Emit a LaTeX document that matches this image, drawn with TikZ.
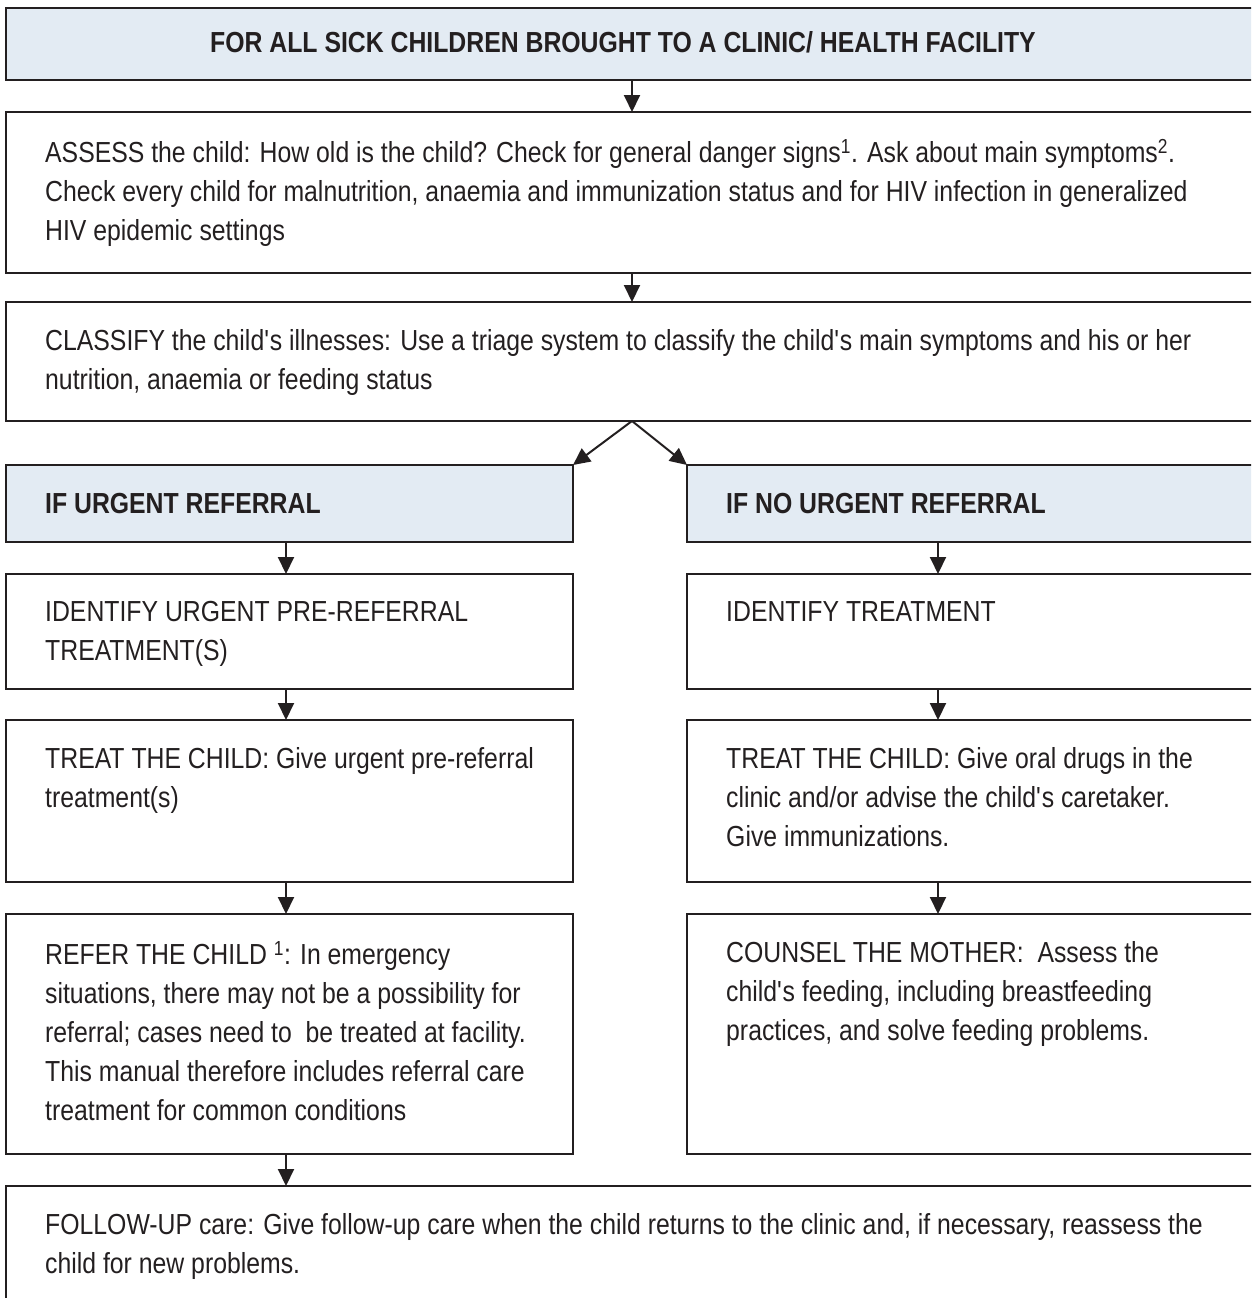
\documentclass[tikz,border=0pt]{standalone}
\usepackage{fontspec}
\setmainfont{Liberation Sans}[FakeStretch=0.855]
\usetikzlibrary{positioning,arrows.meta}

\definecolor{headblue}{RGB}{227,235,243}
\definecolor{ink}{RGB}{35,31,32}

\tikzset{
  box/.style={draw=ink, line width=2.6pt, anchor=north west, inner sep=0pt, outer sep=0pt},
  headbox/.style={box, fill=headblue},
  txt/.style={anchor=north west, inner sep=0pt, align=left, text=ink, font=\fontsize{29}{39}\selectfont},
  headtxt/.style={inner sep=0pt, text=ink, font=\fontsize{29}{36}\selectfont\bfseries},
  arr/.style={draw=ink, line width=2pt, -{Triangle[width=16pt,length=17pt]}},
}

\begin{document}
\begin{tikzpicture}[x=1pt,y=-1pt]
  \useasboundingbox (0,0) rectangle (1251,1298);
  \clip (0,0) rectangle (1251,1298);

  % boxes
  \node[headbox, minimum width=1259pt, minimum height=72pt]  (head)     at (6,8)     {};
  \node[box,     minimum width=1259pt, minimum height=161pt] (assess)   at (6,112)   {};
  \node[box,     minimum width=1259pt, minimum height=119pt] (classify) at (6,302)   {};
  \node[headbox, minimum width=567pt,  minimum height=77pt]  (ifurg)    at (6,465)   {};
  \node[headbox, minimum width=578pt,  minimum height=77pt]  (ifno)     at (687,465) {};
  \node[box,     minimum width=567pt,  minimum height=115pt] (idurg)    at (6,574)   {};
  \node[box,     minimum width=578pt,  minimum height=115pt] (idtr)     at (687,574) {};
  \node[box,     minimum width=567pt,  minimum height=162pt] (trurg)    at (6,720)   {};
  \node[box,     minimum width=578pt,  minimum height=162pt] (trno)     at (687,720) {};
  \node[box,     minimum width=567pt,  minimum height=240pt] (refer)    at (6,914)   {};
  \node[box,     minimum width=578pt,  minimum height=240pt] (counsel)  at (687,914) {};
  \node[box,     minimum width=1259pt, minimum height=130pt] (follow)   at (6,1186)  {};

  % texts
  \node[headtxt, right=204pt of head.west, yshift=2pt] (head-t)
    {FOR ALL SICK CHILDREN BROUGHT TO A CLINIC/ HEALTH FACILITY};
  \node[txt, below right=27pt and 39pt of assess.north west] (assess-t)
    {ASSESS the child: How old is the child? Check for general danger signs\textsuperscript{1}. Ask about main symptoms\textsuperscript{2}.\\
     Check every child for malnutrition, anaemia and immunization status and for HIV infection in generalized\\
     HIV epidemic settings};
  \node[txt, below right=27pt and 39pt of classify.north west] (classify-t)
    {CLASSIFY the child\textquotesingle s illnesses: Use a triage system to classify the child\textquotesingle s main symptoms and his or her\\
     nutrition, anaemia or feeding status};
  \node[headtxt, right=39pt of ifurg.west] (ifurg-t) {IF URGENT REFERRAL};
  \node[headtxt, right=39pt of ifno.west] (ifno-t) {IF NO URGENT REFERRAL};
  \node[txt, below right=27pt and 39pt of idurg.north west] (idurg-t)
    {IDENTIFY URGENT PRE-REFERRAL\\ TREATMENT(S)};
  \node[txt, below right=27pt and 39pt of idtr.north west] (idtr-t)
    {IDENTIFY TREATMENT};
  \node[txt, below right=27pt and 39pt of trurg.north west] (trurg-t)
    {TREAT THE CHILD: Give urgent pre-referral\\ treatment(s)};
  \node[txt, below right=27pt and 39pt of trno.north west] (trno-t)
    {TREAT THE CHILD: Give oral drugs in the\\ clinic and/or advise the child\textquotesingle s caretaker.\\ Give immunizations.};
  \node[txt, below right=27pt and 39pt of refer.north west] (refer-t)
    {REFER THE CHILD \textsuperscript{1}: In emergency\\
     situations, there may not be a possibility for\\
     referral; cases need to\ \ be treated at facility.\\
     This manual therefore includes referral care\\
     treatment for common conditions};
  \node[txt, below right=27pt and 39pt of counsel.north west] (counsel-t)
    {COUNSEL THE MOTHER:\ \ Assess the\\
     child\textquotesingle s feeding, including breastfeeding\\
     practices, and solve feeding problems.};
  \node[txt, below right=27pt and 39pt of follow.north west] (follow-t)
    {FOLLOW-UP care: Give follow-up care when the child returns to the clinic and, if necessary, reassess the\\
     child for new problems.};

  % arrow columns
  \coordinate (mx) at (632,0);
  \coordinate (lx) at (286,0);
  \coordinate (rx) at (938,0);

  \path[every edge/.style={arr}]
    (head.south -| mx) edge (assess.north -| mx)
    (assess.south -| mx) edge (classify.north -| mx)
    (classify.south -| mx) edge (ifurg.north east)
    (classify.south -| mx) edge (ifno.north west)
    (ifurg.south -| lx) edge (idurg.north -| lx)
    (idurg.south -| lx) edge (trurg.north -| lx)
    (trurg.south -| lx) edge (refer.north -| lx)
    (refer.south -| lx) edge (follow.north -| lx)
    (ifno.south -| rx) edge (idtr.north -| rx)
    (idtr.south -| rx) edge (trno.north -| rx)
    (trno.south -| rx) edge (counsel.north -| rx)
    ;
\end{tikzpicture}
\end{document}
